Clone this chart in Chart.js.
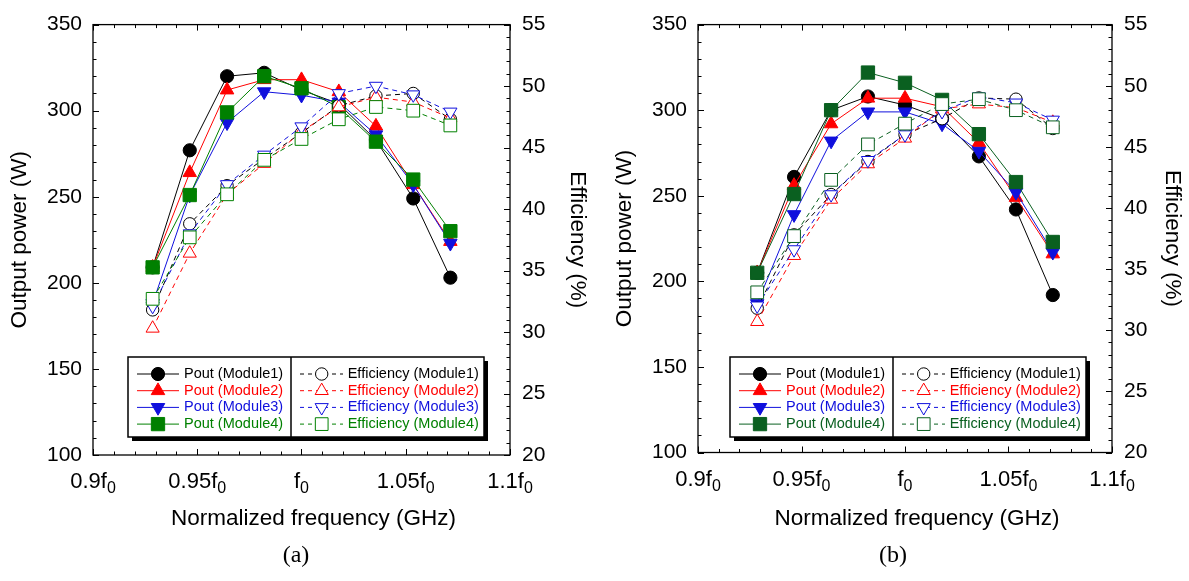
<!DOCTYPE html>
<html>
<head>
<meta charset="utf-8">
<script src="https://cdn.jsdelivr.net/npm/chart.js@4.4.0/dist/chart.umd.min.js"></script>
<style>
  body { margin: 0; background: #fff; width: 1189px; height: 581px; position: relative; overflow: hidden; }
  .pane { position: absolute; top: 0; height: 581px; }
  .cap { position: absolute; top: 541px; width: 60px; text-align: center; font: 24px 'Liberation Serif', 'Times New Roman', serif; color: #000; }
</style>
</head>
<body>
<div class="pane" style="left:0;width:595px"><canvas id="chartA" width="595" height="581"></canvas></div>
<div class="pane" style="left:600px;width:589px"><canvas id="chartB" width="589" height="581"></canvas></div>
<div class="cap" style="left:266px">(a)</div>
<div class="cap" style="left:863px">(b)</div>

<script>
// normalized frequency of each measured point (f / f0)
const normFreq = [0.9286, 0.9464, 0.9643, 0.9821, 1.0, 1.0179, 1.0357, 1.0536, 1.0714];
const xTickValues = [0.9, 0.95, 1.0, 1.05, 1.1];
const xTickText = ['0.9f', '0.95f', 'f', '1.05f', '1.1f'];
const moduleNames = ['Module1', 'Module2', 'Module3', 'Module4'];

// (a) output power (W)
const poutA1 = [209, 277, 320, 322, 312, 304, 283, 249, 203];
const poutA2 = [209, 264, 312, 318, 318, 311, 291, 257, 224];
const poutA3 = [188, 251, 293, 311, 309, 305, 286, 257, 223];
const poutA4 = [209, 251, 299, 320, 313, 302, 282, 260, 230];
// (a) efficiency (%)
const effA1 = [31.8, 38.8, 41.9, 44.1, 46.2, 48.4, 49.2, 49.4, 47.3];
const effA2 = [30.3, 36.4, 41.2, 43.7, 46.3, 48.3, 49.1, 48.7, 47.4];
const effA3 = [32.1, 38.0, 42.0, 44.4, 46.7, 49.4, 50.0, 49.3, 47.9];
const effA4 = [32.7, 37.7, 41.2, 44.0, 45.7, 47.3, 48.3, 48.0, 46.8];

// (b) output power (W)
const poutB1 = [205, 261, 300, 308, 303, 295, 273, 242, 192];
const poutB2 = [205, 256, 292, 307, 307, 302, 281, 249, 216];
const poutB3 = [187, 239, 282, 299, 299, 292, 276, 252, 217];
const poutB4 = [205, 251, 300, 322, 316, 306, 286, 258, 223];
// (b) efficiency (%)
const effB1 = [31.8, 37.8, 41.1, 43.8, 46.0, 47.3, 49.0, 48.9, 46.5];
const effB2 = [30.7, 36.1, 40.7, 43.6, 45.7, 48.1, 48.5, 48.2, 47.0];
const effB3 = [32.0, 36.6, 41.1, 43.9, 46.0, 47.9, 49.1, 48.6, 47.2];
const effB4 = [33.1, 37.7, 42.3, 45.2, 46.9, 48.5, 48.9, 48.0, 46.6];

const FONT = "'Liberation Sans', Arial, sans-serif";
Chart.defaults.font.family = FONT;

const markers = [
  { style: 'circle', rot: 0, r: 6.6, rOpen: 6.2 },
  { style: 'triangle', rot: 0, r: 7.8, rOpen: 7.6 },
  { style: 'triangle', rot: 180, r: 7.8, rOpen: 7.6 },
  { style: 'rect', rot: 0, r: 9.4, rOpen: 9.0 }
];

function pts(arr) {
  return normFreq.map((x, i) => ({ x: x, y: arr[i] }));
}

// own marker drawing for the legend (same geometry as chart.js point styles)
function marker(ctx, m, x, y, r, fill, stroke) {
  ctx.beginPath();
  if (m.style == 'circle') {
    ctx.arc(x, y, r, 0, Math.PI * 2);
  } else if (m.style == 'rect') {
    let s = r * Math.SQRT1_2;
    ctx.rect(x - s, y - s, 2 * s, 2 * s);
  } else {
    let d = m.rot ? -1 : 1;
    ctx.moveTo(x, y - d * r);
    ctx.lineTo(x + 0.866 * r, y + d * 0.5 * r);
    ctx.lineTo(x - 0.866 * r, y + d * 0.5 * r);
    ctx.closePath();
  }
  ctx.fillStyle = fill;
  ctx.fill();
  ctx.lineWidth = 1;
  ctx.strokeStyle = stroke;
  ctx.stroke();
}

const framePlugin = {
  id: 'frame',
  beforeDatasetsDraw(chart) {
    const ctx = chart.ctx, a = chart.chartArea;
    const sx = chart.scales.x, sy = chart.scales.y, sy1 = chart.scales.y1;
    ctx.save();
    ctx.strokeStyle = '#000';
    ctx.lineWidth = 1;
    ctx.beginPath();
    for (let i = 0; i <= 20; i++) {
      let px = Math.round(sx.getPixelForValue(0.9 + i * 0.01)) + 0.5;
      let len = i % 5 == 0 ? 6 : 3.5;
      ctx.moveTo(px, a.bottom); ctx.lineTo(px, a.bottom - len);
      ctx.moveTo(px, a.top); ctx.lineTo(px, a.top + len);
    }
    for (let i = 0; i <= 25; i++) {
      let py = Math.round(sy.getPixelForValue(100 + i * 10)) + 0.5;
      let len = i % 5 == 0 ? 6 : 3.5;
      ctx.moveTo(a.left, py); ctx.lineTo(a.left + len, py);
    }
    for (let i = 0; i <= 35; i++) {
      let py = Math.round(sy1.getPixelForValue(20 + i)) + 0.5;
      let len = i % 5 == 0 ? 6 : 3.5;
      ctx.moveTo(a.right, py); ctx.lineTo(a.right - len, py);
    }
    ctx.stroke();
    ctx.lineWidth = 1.3;
    ctx.strokeRect(a.left, a.top, a.right - a.left, a.bottom - a.top);

    // x tick labels with subscript 0
    ctx.fillStyle = '#000';
    ctx.textBaseline = 'alphabetic';
    ctx.textAlign = 'left';
    xTickValues.forEach((v, i) => {
      let px = sx.getPixelForValue(v);
      ctx.font = '22px ' + FONT;
      let w = ctx.measureText(xTickText[i]).width;
      ctx.font = '16px ' + FONT;
      let ws = ctx.measureText('0').width;
      let x0 = px - (w + ws) / 2;
      ctx.font = '22px ' + FONT;
      ctx.fillText(xTickText[i], x0, a.bottom + 33);
      ctx.font = '16px ' + FONT;
      ctx.fillText('0', x0 + w, a.bottom + 38);
    });

    // x axis title, sits a little right of the plot centre as in the figure
    ctx.font = '22.5px ' + FONT;
    ctx.textAlign = 'center';
    ctx.textBaseline = 'middle';
    ctx.fillText('Normalized frequency (GHz)', (a.left + a.right) / 2 + 12, 519);
    ctx.restore();
  },
  afterDatasetsDraw(chart) {
    const ctx = chart.ctx, a = chart.chartArea;
    const p = chart.options.plugins.frame;
    const bx = a.left + p.legendDx, by = p.legendTop, bw = 356, bh = 80;
    ctx.save();
    ctx.fillStyle = '#000';
    ctx.fillRect(bx + 4, by + 4, bw, bh);
    ctx.fillStyle = '#fff';
    ctx.fillRect(bx, by, bw, bh);
    ctx.strokeStyle = '#000';
    ctx.lineWidth = 1.5;
    ctx.strokeRect(bx, by, bw, bh);
    ctx.beginPath();
    ctx.moveTo(bx + 163, by); ctx.lineTo(bx + 163, by + bh);
    ctx.stroke();
    ctx.font = '14.5px ' + FONT;
    ctx.textBaseline = 'middle';
    ctx.textAlign = 'left';
    for (let k = 0; k < 4; k++) {
      let y = by + 17 + k * 16.7;
      let col = p.colors[k];
      let m = markers[k];
      ctx.strokeStyle = col;
      ctx.lineWidth = 1;
      ctx.setLineDash([]);
      ctx.beginPath();
      ctx.moveTo(bx + 9, y); ctx.lineTo(bx + 51, y);
      ctx.stroke();
      marker(ctx, m, bx + 30, y, m.r, col, col);
      ctx.fillStyle = col;
      ctx.fillText('Pout (' + moduleNames[k] + ')', bx + 56, y);

      ctx.setLineDash([4, 4]);
      ctx.beginPath();
      ctx.moveTo(bx + 172, y); ctx.lineTo(bx + 215, y);
      ctx.stroke();
      ctx.setLineDash([]);
      marker(ctx, m, bx + 193.7, y, m.rOpen, '#fff', col);
      ctx.fillStyle = col;
      ctx.fillText('Efficiency (' + moduleNames[k] + ')', bx + 219.7, y);
    }
    ctx.restore();
  }
};

function makeChart(geo, pout, eff) {
  const colors = ['#000000', '#ff0000', '#1010dd', geo.green];
  const datasets = [];
  for (let k = 0; k < 4; k++) {
    datasets.push({
      label: 'Pout (' + moduleNames[k] + ')',
      data: pts(pout[k]),
      yAxisID: 'y',
      borderColor: colors[k],
      backgroundColor: colors[k],
      borderWidth: 1,
      pointStyle: markers[k].style,
      pointRotation: markers[k].rot,
      pointRadius: markers[k].r,
      pointBorderWidth: 1,
      order: 8 - k
    });
  }
  for (let k = 0; k < 4; k++) {
    datasets.push({
      label: 'Efficiency (' + moduleNames[k] + ')',
      data: pts(eff[k]),
      yAxisID: 'y1',
      borderColor: colors[k],
      backgroundColor: '#ffffff',
      borderWidth: 1,
      borderDash: [5, 4],
      pointStyle: markers[k].style,
      pointRotation: markers[k].rot,
      pointRadius: markers[k].rOpen,
      pointBorderWidth: 1,
      order: 4 - k
    });
  }
  const titleFont = { family: FONT, size: 22.5 };
  const tickFont = { family: FONT, size: 21 };
  return new Chart(document.getElementById(geo.canvas), {
    type: 'line',
    data: { datasets: datasets },
    options: {
      responsive: false,
      animation: false,
      layout: { padding: { top: geo.top, left: 0, right: 0, bottom: 0 } },
      plugins: {
        legend: { display: false },
        tooltip: { enabled: false },
        frame: { legendDx: geo.legendDx, legendTop: 357, colors: colors }
      },
      scales: {
        x: {
          type: 'linear', min: 0.9, max: 1.1,
          grid: { display: false, drawTicks: false },
          border: { display: false },
          ticks: { display: false },
          afterFit(s) { s.height = geo.xAxisH; }
        },
        y: {
          position: 'left', min: 100, max: 350,
          grid: { display: false, drawTicks: false },
          border: { display: false },
          ticks: { stepSize: 50, color: '#000', font: tickFont, padding: 11 },
          title: { display: true, text: 'Output power (W)', color: '#000', font: titleFont, padding: { top: geo.leftTitlePad, bottom: 0 } },
          afterFit(s) { s.width = geo.left; }
        },
        y1: {
          position: 'right', min: 20, max: 55,
          grid: { display: false, drawTicks: false },
          border: { display: false },
          ticks: { stepSize: 5, color: '#000', font: tickFont, padding: 12 },
          title: { display: true, text: 'Efficiency (%)', color: '#000', font: titleFont, padding: { top: geo.rightTitlePad, bottom: 0 } },
          afterFit(s) { s.width = geo.right; }
        }
      }
    },
    plugins: [framePlugin]
  });
}

makeChart(
  { canvas: 'chartA', left: 93, right: 85, top: 19, xAxisH: 126, leftTitlePad: 6.5, rightTitlePad: 4.5, green: '#008000', legendDx: 35 },
  [poutA1, poutA2, poutA3, poutA4],
  [effA1, effA2, effA3, effA4]
);
makeChart(
  { canvas: 'chartB', left: 98, right: 77, top: 19, xAxisH: 128.5, leftTitlePad: 11.5, rightTitlePad: 3.5, green: '#0a6020', legendDx: 32 },
  [poutB1, poutB2, poutB3, poutB4],
  [effB1, effB2, effB3, effB4]
);
</script>
</body>
</html>
